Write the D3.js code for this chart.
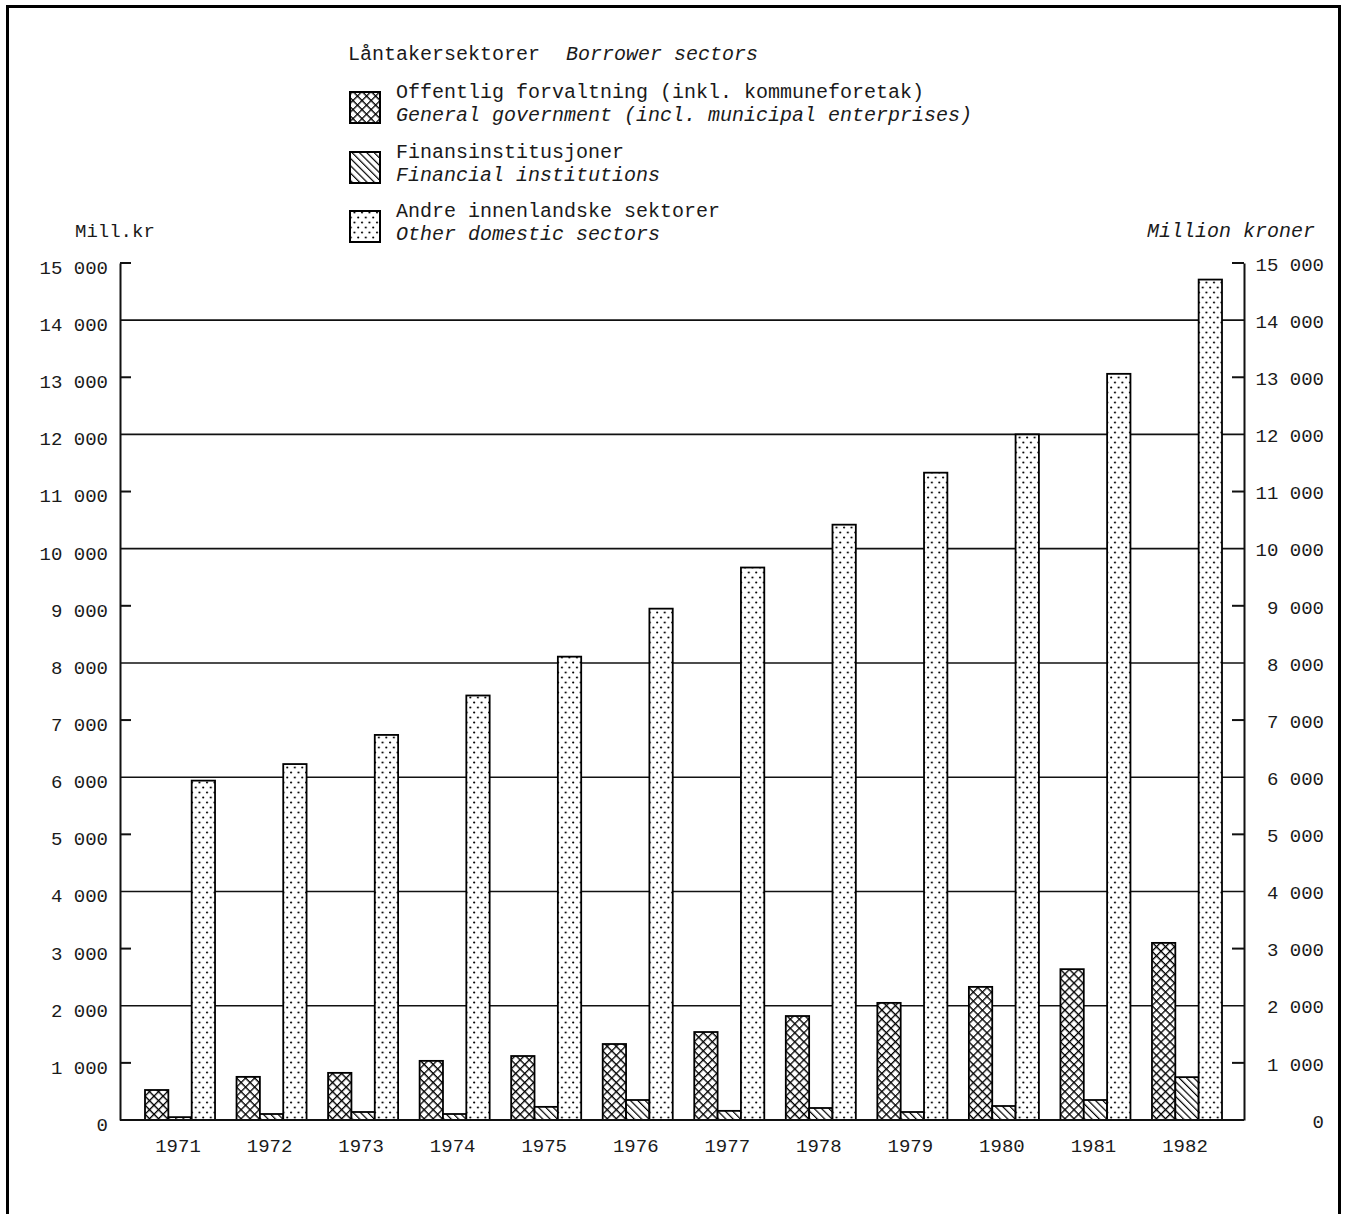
<!DOCTYPE html>
<html>
<head>
<meta charset="utf-8">
<script src="https://cdn.jsdelivr.net/npm/d3@7"></script>
<style>
  html, body { margin: 0; padding: 0; background: #fff; }
  svg { display: block; }
  text { font-family: "Liberation Mono", "DejaVu Sans Mono", monospace; fill: #1a1a1a; }
  .it { font-style: italic; }
</style>
</head>
<body>
<svg id="chart" width="1349" height="1214"></svg>
<script>
// ---- Data ----
const years = ["1971","1972","1973","1974","1975","1976","1977","1978","1979","1980","1981","1982"];
const generalGovernment = [525, 755, 825, 1035, 1120, 1330, 1540, 1820, 2050, 2330, 2640, 3100];
const financialInstitutions = [50, 105, 140, 105, 230, 350, 160, 210, 140, 245, 350, 750];
const otherDomestic = [5940, 6230, 6740, 7430, 8110, 8950, 9670, 10420, 11330, 12000, 13060, 14710];
const seriesKeys = ["gg", "fi", "od"];
const seriesNo = ["Offentlig forvaltning (inkl. kommuneforetak)", "Finansinstitusjoner", "Andre innenlandske sektorer"];
const seriesEn = ["General government (incl. municipal enterprises)", "Financial institutions", "Other domestic  sectors"];
const yTicks = [0,1000,2000,3000,4000,5000,6000,7000,8000,9000,10000,11000,12000,13000,14000,15000];
const yTickLabels = ["0","1 000","2 000","3 000","4 000","5 000","6 000","7 000","8 000","9 000","10 000","11 000","12 000","13 000","14 000","15 000"];
const gridValues = [2000,4000,6000,8000,10000,12000,14000];
const stubValues = [1000,3000,5000,7000,9000,11000,13000,15000];

const table = years.map((yr, i) => ({ year: yr, gg: generalGovernment[i], fi: financialInstitutions[i], od: otherDomestic[i] }));

// ---- Layout ----
const svg = d3.select("#chart");
const xLeft = 120, xRight = 1244;
const y = d3.scaleLinear().domain([0, 15000]).range([1120, 263]);
const x0 = d3.scaleBand().domain(years).range([145, 1222]).paddingInner(0.235).paddingOuter(0);
const x1 = d3.scaleBand().domain(seriesKeys).range([0, x0.bandwidth()]).padding(0);

// ---- Patterns ----
const defs = svg.append("defs");
const cs = 6.4;
const px = defs.append("pattern").attr("id", "p-gg").attr("patternUnits", "userSpaceOnUse")
  .attr("width", cs).attr("height", cs).attr("patternTransform", "rotate(45)");
px.append("rect").attr("width", cs).attr("height", cs).attr("fill", "#fff");
px.append("path").attr("d", `M0,0V${cs}M0,0H${cs}`).attr("stroke", "#000").attr("stroke-width", 2.6);

const ph = defs.append("pattern").attr("id", "p-fi").attr("patternUnits", "userSpaceOnUse")
  .attr("width", 5.2).attr("height", 10).attr("patternTransform", "rotate(-45)");
ph.append("rect").attr("width", 5.2).attr("height", 10).attr("fill", "#fff");
ph.append("path").attr("d", "M0,0V10").attr("stroke", "#000").attr("stroke-width", 2.4);

const pd = defs.append("pattern").attr("id", "p-od").attr("patternUnits", "userSpaceOnUse")
  .attr("width", 7.5).attr("height", 10);
pd.append("rect").attr("width", 7.5).attr("height", 10).attr("fill", "#fff");
pd.append("circle").attr("cx", 2).attr("cy", 2.5).attr("r", 1.05).attr("fill", "#000");
pd.append("circle").attr("cx", 5.75).attr("cy", 7.5).attr("r", 1.05).attr("fill", "#000");

// ---- Frame ----
svg.append("rect").attr("x", 7.5).attr("y", 6.5).attr("width", 1332).attr("height", 1230)
  .attr("fill", "none").attr("stroke", "#000").attr("stroke-width", 3);

// ---- Gridlines ----
svg.append("g").selectAll("line").data(gridValues).join("line")
  .attr("x1", xLeft).attr("x2", xRight)
  .attr("y1", d => y(d)).attr("y2", d => y(d))
  .attr("stroke", "#111").attr("stroke-width", 1.6);
// odd thousands: short stubs
svg.append("g").selectAll("line").data(stubValues).join("line")
  .attr("x1", xLeft).attr("x2", xLeft + 11)
  .attr("y1", d => y(d)).attr("y2", d => y(d))
  .attr("stroke", "#111").attr("stroke-width", 2);
svg.append("g").selectAll("line").data(stubValues).join("line")
  .attr("x1", xRight - 12).attr("x2", xRight)
  .attr("y1", d => y(d)).attr("y2", d => y(d))
  .attr("stroke", "#111").attr("stroke-width", 2);

// ---- Axes ----
const labelOf = d => yTickLabels[yTicks.indexOf(d)];
const axL = svg.append("g").attr("transform", `translate(${xLeft},0)`)
  .call(d3.axisLeft(y).tickValues(yTicks).tickFormat(labelOf).tickSize(0).tickPadding(12));
axL.select(".domain").attr("stroke", "#111").attr("stroke-width", 2);
axL.selectAll("text").attr("font-size", 19).attr("font-family", "Liberation Mono").attr("dy", "0.55em").attr("fill", "#1a1a1a");

const axR = svg.append("g").attr("transform", `translate(${xRight},0)`)
  .call(d3.axisRight(y).tickValues(yTicks).tickFormat(labelOf).tickSize(0).tickPadding(80));
axR.select(".domain").attr("stroke", "#111").attr("stroke-width", 2);
axR.selectAll("text").attr("font-size", 19).attr("font-family", "Liberation Mono").attr("text-anchor", "end").attr("dy", "0.38em").attr("fill", "#1a1a1a");

// ---- Bars ----
const groups = svg.append("g").selectAll("g").data(table).join("g")
  .attr("transform", d => `translate(${x0(d.year)},0)`);
groups.selectAll("rect").data(d => seriesKeys.map(k => ({ key: k, value: d[k] }))).join("rect")
  .attr("x", d => x1(d.key))
  .attr("width", x1.bandwidth())
  .attr("y", d => y(d.value))
  .attr("height", d => y(0) - y(d.value))
  .attr("fill", d => `url(#p-${d.key})`)
  .attr("stroke", "#000").attr("stroke-width", 1.8);

// zero line
svg.append("line").attr("x1", xLeft).attr("x2", xRight).attr("y1", y(0)).attr("y2", y(0))
  .attr("stroke", "#111").attr("stroke-width", 2);

// ---- X labels ----
svg.append("g").selectAll("text").data(years).join("text")
  .attr("x", d => x0(d) + x0.bandwidth() / 2 - 2)
  .attr("y", 1152)
  .attr("text-anchor", "middle").attr("font-size", 19)
  .text(d => d);

// ---- Axis titles ----
svg.append("text").attr("x", 75).attr("y", 237).attr("font-size", 19).text("Mill.kr");
svg.append("text").attr("class", "it").attr("x", 1315).attr("y", 237).attr("text-anchor", "end").attr("font-size", 20).text("Million kroner");

// ---- Legend ----
const lg = svg.append("g");
lg.append("text").attr("x", 348).attr("y", 60).attr("font-size", 20).text("Låntakersektorer");
lg.append("text").attr("class", "it").attr("x", 566).attr("y", 60).attr("font-size", 20).text("Borrower sectors");
const itemY = [92, 152, 211];
seriesKeys.forEach((k, i) => {
  lg.append("rect").attr("x", 350).attr("y", itemY[i]).attr("width", 30).attr("height", 31)
    .attr("fill", `url(#p-${k})`).attr("stroke", "#000").attr("stroke-width", 2);
  lg.append("text").attr("x", 396).attr("y", itemY[i] + 6).attr("font-size", 20).text(seriesNo[i]);
  lg.append("text").attr("class", "it").attr("x", 396).attr("y", itemY[i] + 29).attr("font-size", 20).attr("fill", "#333").text(seriesEn[i]);
});
</script>
</body>
</html>
